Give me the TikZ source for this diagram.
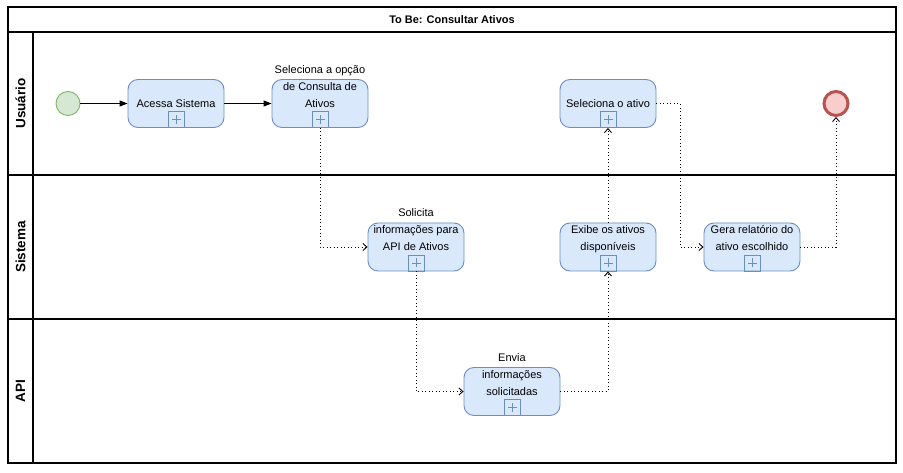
\documentclass[tikz,border=0pt]{standalone}
\usepackage{fontspec}
\setmainfont{Liberation Sans}
\usetikzlibrary{arrows.meta,calc}
\definecolor{taskfill}{HTML}{DAE8FC}
\definecolor{taskline}{HTML}{6C8EBF}
\definecolor{startfill}{HTML}{D5E8D4}
\definecolor{startline}{HTML}{82B366}
\definecolor{endfill}{HTML}{F8CECC}
\definecolor{endline}{HTML}{B85450}
\begin{document}
\begin{tikzpicture}[x=1pt, y=-1pt,
  frame/.style={line width=1.3pt},
  task/.style={draw=taskline, fill=taskfill, rounded corners=10pt, minimum width=96pt, minimum height=48pt, inner sep=0pt, line width=0.9pt},
  marker/.style={draw=taskline, minimum size=16pt, inner sep=0pt, line width=0.9pt},
  lbl/.style={font=\fontsize{11}{17}\selectfont, align=center, inner sep=0pt, anchor=base},
  lane/.style={font=\fontsize{13.5}{15}\selectfont\bfseries, rotate=90},
  seq/.style={line width=0.9pt, -{Triangle[length=8pt,width=6pt]}},
  msg/.style={dash pattern=on 0.9pt off 2.6pt, line width=0.9pt, -{Straight Barb[length=4pt,width=7pt]}}
]
\useasboundingbox (0,0) rectangle (903,473);

% Pool and lanes
\draw[frame] (8,7) rectangle (896,463);
\draw[frame] (8,32) -- (896,32);
\draw[frame] (8,175) -- (896,175);
\draw[frame] (8,319) -- (896,319);
\draw[frame] (33,32) -- (33,463);
\node[font=\fontsize{11}{12}\selectfont\bfseries] (titulo) at (452,19.5) {To Be: Consultar Ativos};
\node[lane] (usuario) at (20.5,103.5) {Usuário};
\node[lane] (sistema) at (20.5,247) {Sistema};
\node[lane] (api) at (20.5,391) {API};

% Events
\node[circle, draw=startline, fill=startfill, minimum size=24pt, inner sep=0pt, line width=0.9pt] (inicio) at (68,103.5) {};
\node[circle, draw=endline, fill=endfill, minimum size=24pt, inner sep=0pt, line width=3pt] (fim) at (836,103.5) {};

% Tasks
\node[task] (acessa) at (176,103.5) {};
\node[task] (opcao) at (320,103.5) {};
\node[task] (ativo) at (608,103.5) {};
\node[task] (solicita) at (416,247) {};
\node[task] (exibe) at (608,247) {};
\node[task] (gera) at (752,247) {};
\node[task] (envia) at (512,391.5) {};

% Labels (last line on the task centre)
\node[lbl] (t-acessa) at ($(acessa.center)+(0,4)$) {Acessa Sistema};
\node[lbl] (t-opcao) at ($(opcao.center)+(0,4)$) {Seleciona a opção\\de Consulta de\\Ativos};
\node[lbl] (t-ativo) at ($(ativo.center)+(0,4)$) {Seleciona o ativo};
\node[lbl] (t-solicita) at ($(solicita.center)+(0,4)$) {Solicita\\informações para\\API de Ativos};
\node[lbl] (t-exibe) at ($(exibe.center)+(0,4)$) {Exibe os ativos\\disponíveis};
\node[lbl] (t-gera) at ($(gera.center)+(0,4)$) {Gera relatório do\\ativo escolhido};
\node[lbl] (t-envia) at ($(envia.center)+(0,4)$) {Envia\\informações\\solicitadas};

% Sub-process markers
\foreach \t in {acessa,opcao,ativo,solicita,exibe,gera,envia} {
  \node[marker, anchor=south] (\t-m) at (\t.south) {};
  \draw[taskline, line width=0.8pt] ($(\t-m.center)+(-4.5,0)$) -- ($(\t-m.center)+(4.5,0)$);
  \draw[taskline, line width=0.8pt] ($(\t-m.center)+(0,-4.5)$) -- ($(\t-m.center)+(0,4.5)$);
}

% Sequence flows
\draw[seq] (inicio) -- (acessa);
\draw[seq] (acessa) -- (opcao);

% Message flows
\coordinate (volta) at (680,175);
\draw[msg] (opcao-m.south) |- (solicita.west);
\draw[msg] (solicita-m.south) |- (envia.west);
\draw[msg] (envia.east) -| (exibe-m.south);
\draw[msg] (exibe.north) -- (ativo-m.south);
\draw[msg] (ativo.east) -| (volta) |- (gera.west);
\draw[msg] (gera.east) -| (fim.south);

\end{tikzpicture}
\end{document}
